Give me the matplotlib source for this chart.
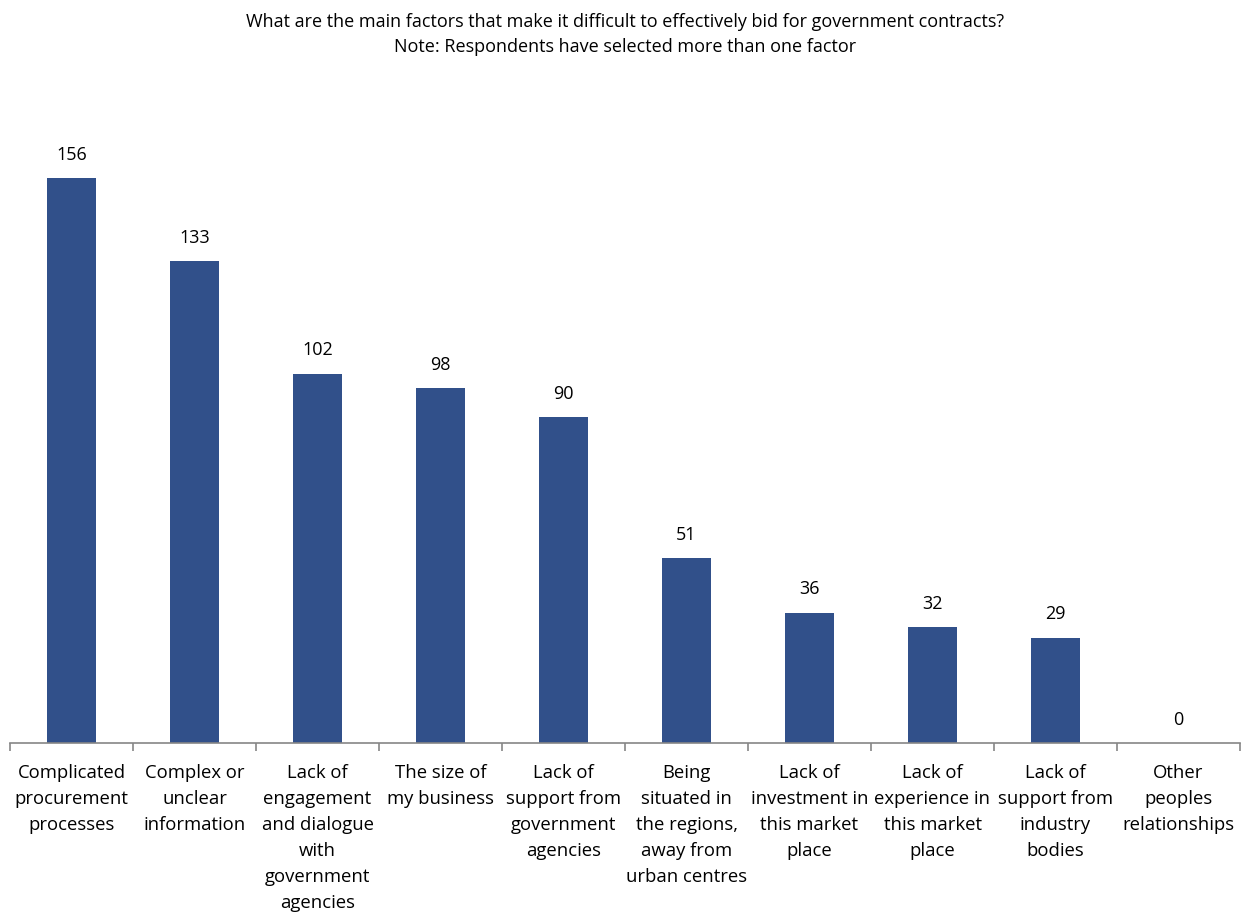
import matplotlib
matplotlib.use('Agg')
import matplotlib.pyplot as plt

plt.rcParams['font.family'] = ['Open Sans', 'DejaVu Sans']

categories = [
    'Complicated\nprocurement\nprocesses',
    'Complex or\nunclear\ninformation',
    'Lack of\nengagement\nand dialogue\nwith\ngovernment\nagencies',
    'The size of\nmy business',
    'Lack of\nsupport from\ngovernment\nagencies',
    'Being\nsituated in\nthe regions,\naway from\nurban centres',
    'Lack of\ninvestment in\nthis market\nplace',
    'Lack of\nexperience in\nthis market\nplace',
    'Lack of\nsupport from\nindustry\nbodies',
    'Other\npeoples\nrelationships',
]
counts = [156, 133, 102, 98, 90, 51, 36, 32, 29, 0]

fig = plt.figure(figsize=(12.5, 9.13), dpi=100)
ax = fig.add_axes([0.008, 0.1862, 0.984, 0.714])

x = list(range(len(counts)))
ax.bar(x, counts, width=0.4, color='#31508A')
for xi, v in zip(x, counts):
    ax.text(xi, v + 4, str(v), ha='center', va='bottom', fontsize=13)

ax.set_xlim(-0.5, len(counts) - 0.5)
ax.set_ylim(0, 180)
for s in ['top', 'right', 'left']:
    ax.spines[s].set_visible(False)
ax.spines['bottom'].set_color('#868686')
ax.spines['bottom'].set_linewidth(1.2)
ax.set_yticks([])

# ticks sit between the categories
ax.set_xticks([i - 0.5 for i in range(len(counts) + 1)])
ax.set_xticklabels([])
ax.tick_params(axis='x', length=6, width=1.2, color='#868686')
ax.set_xticks(x, minor=True)
ax.set_xticklabels(categories, minor=True, fontsize=13.3, linespacing=1.57, va='top')
ax.tick_params(axis='x', which='minor', length=0, pad=15)

fig.text(0.5, 0.986, 'What are the main factors that make it difficult to effectively bid for government contracts?\n'
         'Note: Respondents have selected more than one factor',
         ha='center', va='top', fontsize=13, linespacing=1.55)

fig.savefig('out.png')
